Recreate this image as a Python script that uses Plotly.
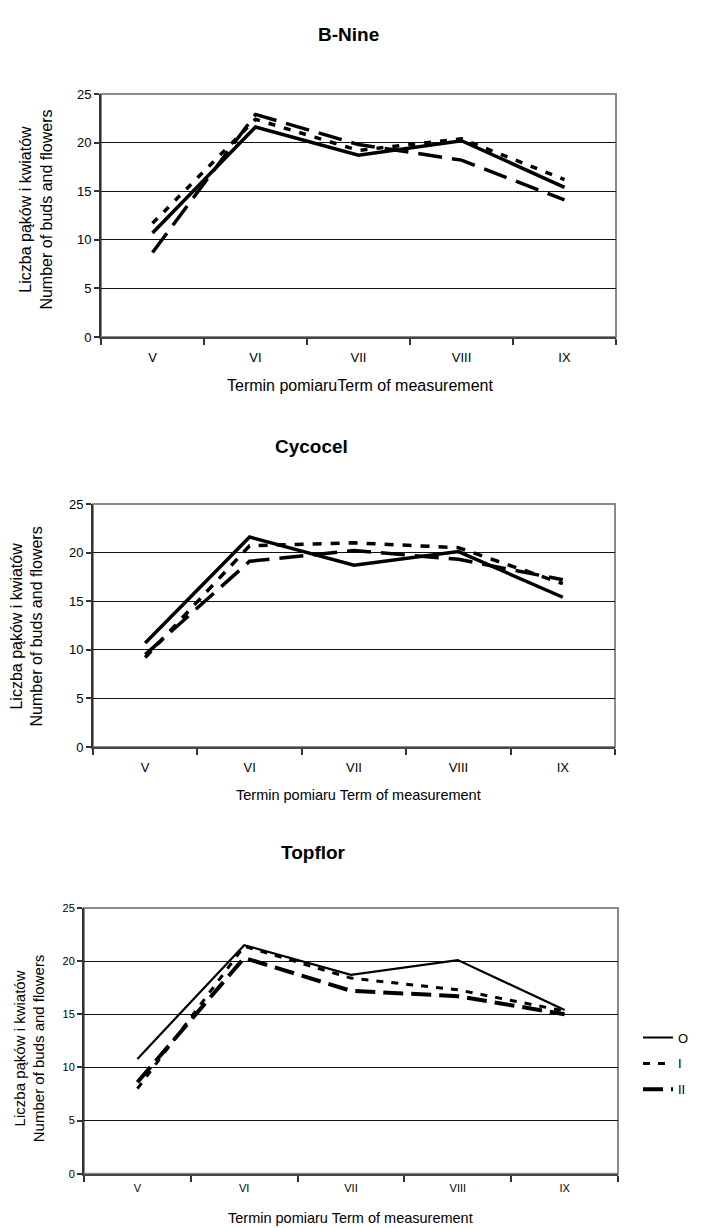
import plotly.graph_objects as go

W, H = 709, 1228

terms = ["V", "VI", "VII", "VIII", "IX"]
series_names = ["O", "I", "II"]

bnine_O = [10.7, 21.6, 18.7, 20.2, 15.4]
bnine_I = [11.7, 22.4, 19.2, 20.4, 16.2]
bnine_II = [8.7, 22.9, 19.8, 18.2, 14.1]

cycocel_O = [10.7, 21.6, 18.7, 20.1, 15.4]
cycocel_I = [9.2, 20.7, 21.0, 20.5, 16.8]
cycocel_II = [9.5, 19.1, 20.2, 19.3, 17.2]

topflor_O = [10.8, 21.5, 18.7, 20.1, 15.4]
topflor_I = [8.0, 21.4, 18.4, 17.3, 15.3]
topflor_II = [8.6, 20.3, 17.2, 16.7, 15.0]

panel_titles = ["B-Nine", "Cycocel", "Topflor"]
x_titles = ["Termin pomiaruTerm of measurement",
            "Termin pomiaru Term of measurement",
            "Termin pomiaru Term of measurement"]
y_title = "Liczba pąków i kwiatów<br>Number of buds and flowers"

FONT = "Liberation Sans, Arial, sans-serif"


def px(x):
    return x / W


def py(y):
    return 1 - y / H


panels = [
    dict(box=(93, 608, 80, 326), data=(bnine_O, bnine_I, bnine_II),
         widths=(3.5, 3.5, 3.5), dashes=("solid", "7px,9px", "24px,10px"),
         tickfont=13, standoff=7,
         title_xy=(340, 20), ytitle_xy=(28, 197), ytitle_font=16,
         xtitle_xy=(352, 375), xtitle_font=16),
    dict(box=(85, 607, 495, 741), data=(cycocel_O, cycocel_I, cycocel_II),
         widths=(3.5, 3.5, 3.5), dashes=("solid", "9px,9px", "24px,10px"),
         tickfont=13, standoff=7,
         title_xy=(303, 437), ytitle_xy=(19, 619), ytitle_font=16,
         xtitle_xy=(350, 790), xtitle_font=14.5),
    dict(box=(76, 610, 904, 1173), data=(topflor_O, topflor_I, topflor_II),
         widths=(2.2, 3, 4), dashes=("solid", "7px,8px", "20px,8px"),
         tickfont=11, standoff=3,
         title_xy=(305, 848), ytitle_xy=(21, 1046), ytitle_font=15,
         xtitle_xy=(342, 1218), xtitle_font=14.5),
]

fig = go.Figure()
annotations = []
shapes = []
layout_axes = {}

for i, p in enumerate(panels, start=1):
    l, r, t, b = p["box"]
    xa = "x" if i == 1 else f"x{i}"
    ya = "y" if i == 1 else f"y{i}"
    for name, vals, w, d in zip(series_names, p["data"], p["widths"], p["dashes"]):
        fig.add_trace(go.Scatter(
            x=terms, y=vals, mode="lines", name=name,
            line=dict(color="black", width=w, dash=d),
            xaxis=xa, yaxis=ya,
            showlegend=(i == 3), legendgroup=name,
        ))
    xkey = "xaxis" if i == 1 else f"xaxis{i}"
    ykey = "yaxis" if i == 1 else f"yaxis{i}"
    layout_axes[xkey] = dict(
        domain=[px(l), px(r)], anchor=ya, type="category",
        categoryorder="array", categoryarray=terms, range=[-0.5, 4.5],
        tickson="boundaries", ticks="outside", ticklen=6, tickwidth=1.5,
        tickcolor="#333", showline=True, linecolor="#444", linewidth=2,
        showgrid=False, zeroline=False, ticklabelstandoff=p["standoff"],
        tickfont=dict(family=FONT, size=p["tickfont"], color="black"),
    )
    layout_axes[ykey] = dict(
        domain=[py(b), py(t)], anchor=xa, range=[0, 25], dtick=5,
        ticks="outside", ticklen=5, tickwidth=1.5, tickcolor="#333",
        showline=True, linecolor="#333", linewidth=2,
        showgrid=True, gridcolor="#111", gridwidth=1, zeroline=False,
        tickfont=dict(family=FONT, size=p["tickfont"], color="black"),
    )
    shapes.append(dict(type="rect", xref=f"{xa} domain", yref=f"{ya} domain",
                       x0=0, x1=1, y0=0, y1=1,
                       line=dict(color="#8a8a8a", width=2), layer="below"))
    tx, ty = p["title_xy"]
    annotations.append(dict(text=f"<b>{panel_titles[i-1]}</b>", x=px(tx), y=py(ty),
                            xref="paper", yref="paper", showarrow=False,
                            xanchor="center", yanchor="middle",
                            font=dict(family=FONT, size=19, color="black")))
    yx, yy = p["ytitle_xy"]
    annotations.append(dict(text=y_title, x=px(yx), y=py(yy), xref="paper", yref="paper",
                            showarrow=False, textangle=-90, xanchor="center",
                            yanchor="middle",
                            font=dict(family=FONT, size=p["ytitle_font"], color="black")))
    xx, xy = p["xtitle_xy"]
    annotations.append(dict(text=x_titles[i-1], x=px(xx), y=py(xy), xref="paper", yref="paper",
                            showarrow=False, xanchor="center", yanchor="middle",
                            font=dict(family=FONT, size=p["xtitle_font"], color="black")))

fig.update_layout(
    width=W, height=H,
    margin=dict(l=0, r=0, t=0, b=0),
    paper_bgcolor="white", plot_bgcolor="white",
    annotations=annotations, shapes=shapes,
    legend=dict(x=px(630), y=py(1020), xanchor="left", yanchor="top",
                font=dict(family=FONT, size=13, color="black"),
                bgcolor="rgba(0,0,0,0)", borderwidth=0,
                tracegroupgap=6),
    **layout_axes,
)

fig.write_html("out.html")
